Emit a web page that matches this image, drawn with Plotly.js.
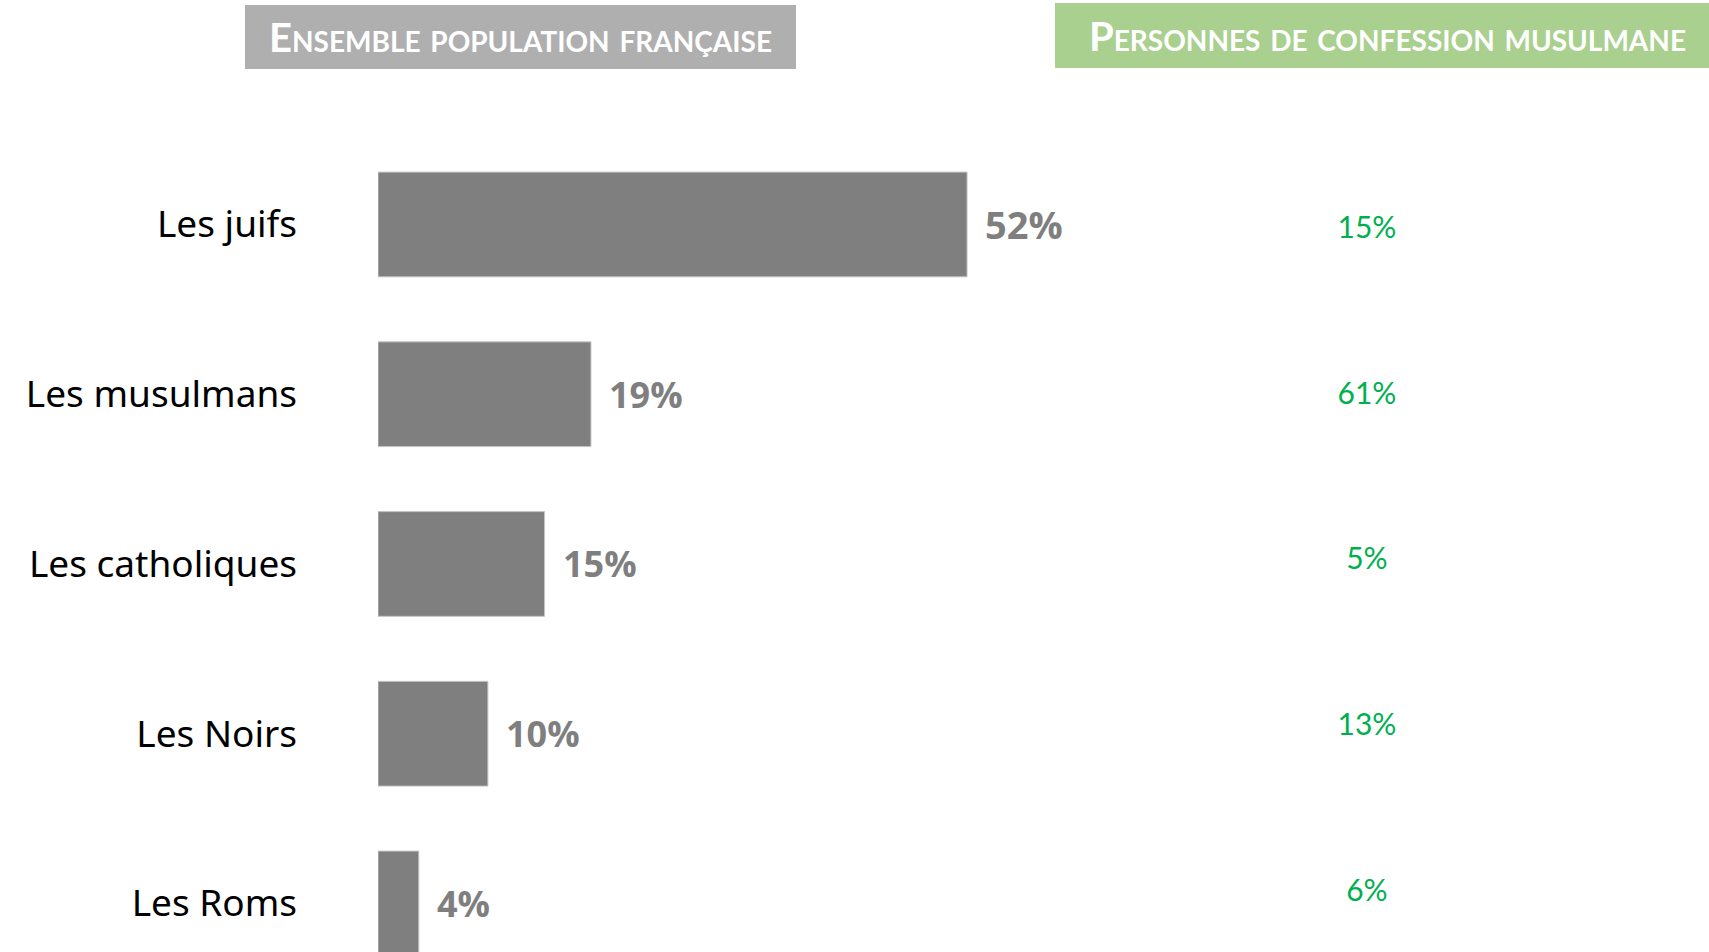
<!DOCTYPE html>
<html>
<head>
<meta charset="utf-8">
<script src="https://cdn.plot.ly/plotly-3.0.1.min.js"></script>
<style>html,body{margin:0;padding:0;background:#fff;}#chart{width:1709px;height:952px;}</style>
</head>
<body>
<div id="chart"></div>
<script>
const categories = ["Les juifs", "Les musulmans", "Les catholiques", "Les Noirs", "Les Roms"];
const ensembleValues = [52, 18.8, 14.7, 9.7, 3.6];
const ensembleLabels = ["52%", "19%", "15%", "10%", "4%"];
const musulmanValues = [15, 61, 5, 13, 6];
const headerEnsemble = "Ensemble population française";
const headerMusulman = "Personnes de confession musulmane";

const W = 1709, H = 952;
const px = v => v / W;
const py = v => 1 - v / H;
const musCol = 0.743;

const barTrace = {
  type: "bar", orientation: "h",
  y: categories, x: ensembleValues,
  width: 0.617,
  marker: { color: "#7f7f7f", line: { color: "#c4c4c4", width: 1 } },
  hoverinfo: "skip",
  xaxis: "x", yaxis: "y"
};
const musTrace = {
  type: "scatter", mode: "text",
  y: categories, x: categories.map(() => musCol),
  text: musulmanValues.map(v => v + "%"),
  textposition: "middle center",
  textfont: { family: "Lato, sans-serif", size: 30, color: "#00b050" },
  hoverinfo: "skip",
  xaxis: "x2", yaxis: "y2"
};

const labelAnnotations = categories.map((c, i) => ({
  x: ensembleValues[i], y: c, xref: "x", yref: "y",
  text: ensembleLabels[i], showarrow: false,
  xanchor: "left", yanchor: "middle", xshift: 16,
  font: { family: "Open Sans, sans-serif", size: i === 0 ? 38 : 36, color: "#7f7f7f", weight: "bold" }
}));

const layout = {
  width: W, height: H,
  margin: { l: 0, r: 0, t: 0, b: 0, pad: 0 },
  paper_bgcolor: "#ffffff", plot_bgcolor: "#ffffff",
  showlegend: false,
  xaxis: { domain: [px(378), 1], range: [0, 117.5], visible: false, fixedrange: true },
  xaxis2: { overlaying: "x", range: [0, 1], visible: false, fixedrange: true },
  yaxis: {
    type: "category", categoryarray: categories, categoryorder: "array",
    range: [4.286, -1.3225],
    showgrid: false, zeroline: false, showline: false, ticks: "",
    ticklabelstandoff: 80,
    tickfont: { family: "Noto Sans, sans-serif", size: 37, color: "#000000" },
    fixedrange: true
  },
  yaxis2: {
    type: "category", categoryarray: categories, categoryorder: "array",
    overlaying: "y", anchor: "x2",
    range: [4.354, -1.392], visible: false, fixedrange: true
  },
  shapes: [
    { type: "rect", xref: "paper", yref: "paper", x0: px(245), x1: px(796), y0: py(69), y1: py(5),
      fillcolor: "#afafaf", line: { width: 0 }, layer: "below" },
    { type: "rect", xref: "paper", yref: "paper", x0: px(1055), x1: 1, y0: py(68), y1: py(3),
      fillcolor: "#a9d08e", line: { width: 0 }, layer: "below" }
  ],
  annotations: labelAnnotations.concat([
    { xref: "paper", yref: "paper", x: px(520), y: py(37), text: headerEnsemble, showarrow: false,
      xanchor: "center", yanchor: "middle",
      font: { family: "Lato, sans-serif", size: 40, color: "#ffffff", weight: "bold", variant: "small-caps" } },
    { xref: "paper", yref: "paper", x: px(1387), y: py(36), text: headerMusulman, showarrow: false,
      xanchor: "center", yanchor: "middle",
      font: { family: "Lato, sans-serif", size: 40, color: "#ffffff", weight: "bold", variant: "small-caps" } }
  ])
};

Plotly.newPlot("chart", [barTrace, musTrace], layout, { displayModeBar: false, staticPlot: true });
</script>
</body>
</html>
